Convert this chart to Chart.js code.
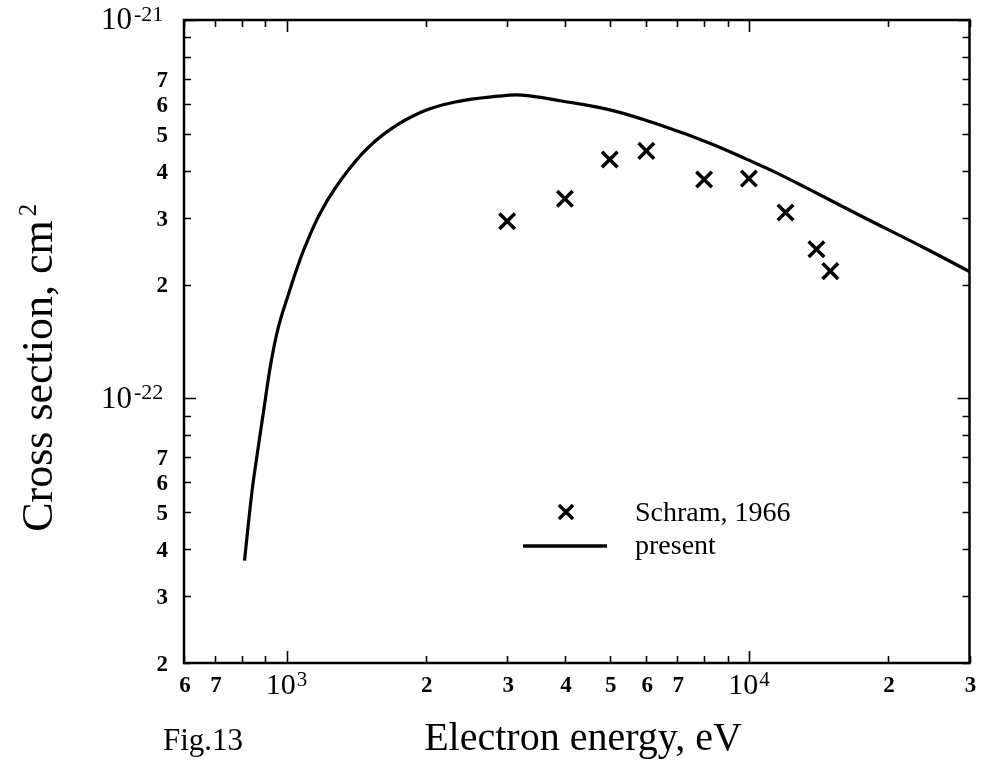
<!DOCTYPE html>
<html><head><meta charset="utf-8">
<script src="https://cdn.jsdelivr.net/npm/chart.js@4/dist/chart.umd.min.js"></script>
<style>html,body{margin:0;padding:0;background:#fff}#wrap{width:984px;height:762px}</style>
</head><body><div id="wrap"><canvas id="c" width="984" height="762"></canvas></div>
<script>
// ---- data ----
const curveEnergy = [811, 842, 866, 892, 925, 961, 1010, 1052, 1097, 1178, 1279, 1459, 1665, 1964, 2317, 2871, 3223, 3928, 5031, 6446, 8256, 9902, 11300, 13325, 17650, 23750, 30000];
const curveSigma  = [3.73e-23, 5.69e-23, 7.26e-23, 9.27e-23, 1.24e-22, 1.55e-22, 1.888e-22, 2.197e-22, 2.521e-22, 3.062e-22, 3.62e-22, 4.44e-22, 5.11e-22, 5.72e-22, 6.07e-22, 6.29e-22, 6.33e-22, 6.11e-22, 5.78e-22, 5.27e-22, 4.72e-22, 4.283e-22, 3.982e-22, 3.60e-22, 3.016e-22, 2.513e-22, 2.164e-22];
const schramEnergy = [3000, 4000, 5000, 6000, 8000, 10000, 12000, 14000, 15000];
const schramSigma  = [2.94e-22, 3.37e-22, 4.28e-22, 4.51e-22, 3.79e-22, 3.81e-22, 3.10e-22, 2.48e-22, 2.17e-22];

const xTickValues = [600, 700, 1000, 2000, 3000, 4000, 5000, 6000, 7000, 10000, 20000, 30000];
const xTickLabels = ['6', '7', '10^3', '2', '3', '4', '5', '6', '7', '10^4', '2', '3'];
const yTickValues = [2e-23, 3e-23, 4e-23, 5e-23, 6e-23, 7e-23, 1e-22, 2e-22, 3e-22, 4e-22, 5e-22, 6e-22, 7e-22, 1e-21];
const yTickLabels = ['2', '3', '4', '5', '6', '7', '10^-22', '2', '3', '4', '5', '6', '7', '10^-21'];

const xTitle = 'Electron energy, eV';
const yTitle = 'Cross section, cm';
const yTitleSup = '2';
const figLabel = 'Fig.13';
const legendLabels = ['Schram, 1966', 'present'];

const X_MIN = 600, X_MAX = 30000, Y_MIN = 2e-23, Y_MAX = 1e-21;
const SERIF = '"Liberation Serif", "DejaVu Serif", serif';

function minorValues(min, max) {
  const out = [];
  for (let e = Math.floor(Math.log10(min)); e <= Math.ceil(Math.log10(max)); e++) {
    const d = Math.pow(10, e);
    for (let m = 1; m <= 9; m++) {
      const v = m * d;
      if (v >= min * 0.9999 && v <= max * 1.0001) out.push({ v: v, major: m === 1 });
    }
  }
  return out;
}

const decor = {
  id: 'decor',
  afterDraw(chart) {
    const ctx = chart.ctx;
    const a = chart.chartArea;
    const xs = chart.scales.x, ys = chart.scales.y;
    ctx.save();
    ctx.strokeStyle = '#000';
    ctx.fillStyle = '#000';

    // ticks (inward, all four sides)
    ctx.lineWidth = 1.6;
    ctx.beginPath();
    minorValues(X_MIN, X_MAX).forEach(t => {
      const px = Math.round(xs.getPixelForValue(t.v)) + 0.5;
      const len = t.major ? 12 : 7;
      ctx.moveTo(px, a.bottom); ctx.lineTo(px, a.bottom - len);
      ctx.moveTo(px, a.top); ctx.lineTo(px, a.top + len);
    });
    minorValues(Y_MIN, Y_MAX).forEach(t => {
      const py = Math.round(ys.getPixelForValue(t.v)) + 0.5;
      const len = t.major ? 12 : 7;
      ctx.moveTo(a.left, py); ctx.lineTo(a.left + len, py);
      ctx.moveTo(a.right, py); ctx.lineTo(a.right - len, py);
    });
    ctx.stroke();

    // frame
    ctx.lineWidth = 2.5;
    ctx.strokeRect(a.left, a.top, a.right - a.left, a.bottom - a.top);

    // x tick labels
    ctx.textBaseline = 'middle';
    xTickValues.forEach((v, i) => {
      const px = xs.getPixelForValue(v);
      const lab = xTickLabels[i];
      if (lab.indexOf('^') >= 0) {
        const [b, s] = lab.split('^');
        ctx.font = '30px ' + SERIF;
        const wb = ctx.measureText(b).width;
        ctx.font = '21px ' + SERIF;
        const ws = ctx.measureText(s).width;
        const x0 = px - (wb + ws + 1) / 2;
        ctx.textAlign = 'left';
        ctx.font = '30px ' + SERIF;
        ctx.fillText(b, x0, 686);
        ctx.font = '21px ' + SERIF;
        ctx.fillText(s, x0 + wb + 1, 680);
      } else {
        ctx.textAlign = 'center';
        ctx.font = 'bold 23px ' + SERIF;
        ctx.fillText(lab, px + 1, 686);
      }
    });

    // y tick labels
    yTickValues.forEach((v, i) => {
      const py = ys.getPixelForValue(v);
      const lab = yTickLabels[i];
      if (lab.indexOf('^') >= 0) {
        const [b, s] = lab.split('^');
        ctx.textAlign = 'right';
        ctx.font = '31px ' + SERIF;
        ctx.fillText(b, 132, py + 1);
        ctx.textAlign = 'left';
        ctx.font = '22px ' + SERIF;
        ctx.fillText(s, 134, py - 5);
      } else {
        ctx.textAlign = 'right';
        ctx.font = 'bold 23px ' + SERIF;
        ctx.fillText(lab, 168, py + 2);
      }
    });

    // x title
    ctx.textBaseline = 'alphabetic';
    ctx.textAlign = 'center';
    ctx.font = '40px ' + SERIF;
    ctx.fillText(xTitle, 583, 750);

    // fig label
    ctx.textAlign = 'left';
    ctx.font = '31px ' + SERIF;
    ctx.fillText(figLabel, 163, 750);

    // y title (rotated)
    ctx.save();
    ctx.translate(52, 376);
    ctx.rotate(-Math.PI / 2);
    ctx.font = '44px ' + SERIF;
    const wt = ctx.measureText(yTitle).width;
    ctx.textAlign = 'center';
    ctx.fillText(yTitle, 0, 0);
    ctx.textAlign = 'left';
    ctx.font = '25px ' + SERIF;
    ctx.fillText(yTitleSup, wt / 2 + 4, -16);
    ctx.restore();

    // legend
    ctx.lineWidth = 3.5;
    Chart.helpers.drawPoint(ctx, { pointStyle: 'crossRot', radius: 10, rotation: 0, borderWidth: 3.5 }, 566, 512);
    ctx.lineWidth = 3.5;
    ctx.beginPath();
    ctx.moveTo(523, 546); ctx.lineTo(607, 546);
    ctx.stroke();
    ctx.font = '28px ' + SERIF;
    ctx.textAlign = 'left';
    ctx.fillText(legendLabels[0], 635, 521);
    ctx.fillText(legendLabels[1], 635, 554);

    ctx.restore();
  }
};

new Chart(document.getElementById('c'), {
  type: 'scatter',
  data: {
    datasets: [
      {
        label: legendLabels[1],
        data: curveEnergy.map((e, i) => ({ x: e, y: curveSigma[i] })),
        showLine: true,
        borderColor: '#000',
        backgroundColor: '#000',
        borderWidth: 3.2,
        pointRadius: 0,
        tension: 0.4,
        fill: false
      },
      {
        label: legendLabels[0],
        data: schramEnergy.map((e, i) => ({ x: e, y: schramSigma[i] })),
        showLine: false,
        pointStyle: 'crossRot',
        pointRadius: 11,
        borderWidth: 3.5,
        borderColor: '#000',
        backgroundColor: '#000'
      }
    ]
  },
  options: {
    responsive: false,
    animation: false,
    devicePixelRatio: 1,
    layout: { padding: { left: 184, right: 10, top: 20, bottom: 99 } },
    scales: {
      x: { type: 'logarithmic', min: X_MIN, max: X_MAX, display: false },
      y: { type: 'logarithmic', min: Y_MIN, max: Y_MAX, display: false }
    },
    plugins: { legend: { display: false }, tooltip: { enabled: false } },
    events: []
  },
  plugins: [decor]
});
</script>
</body></html>
